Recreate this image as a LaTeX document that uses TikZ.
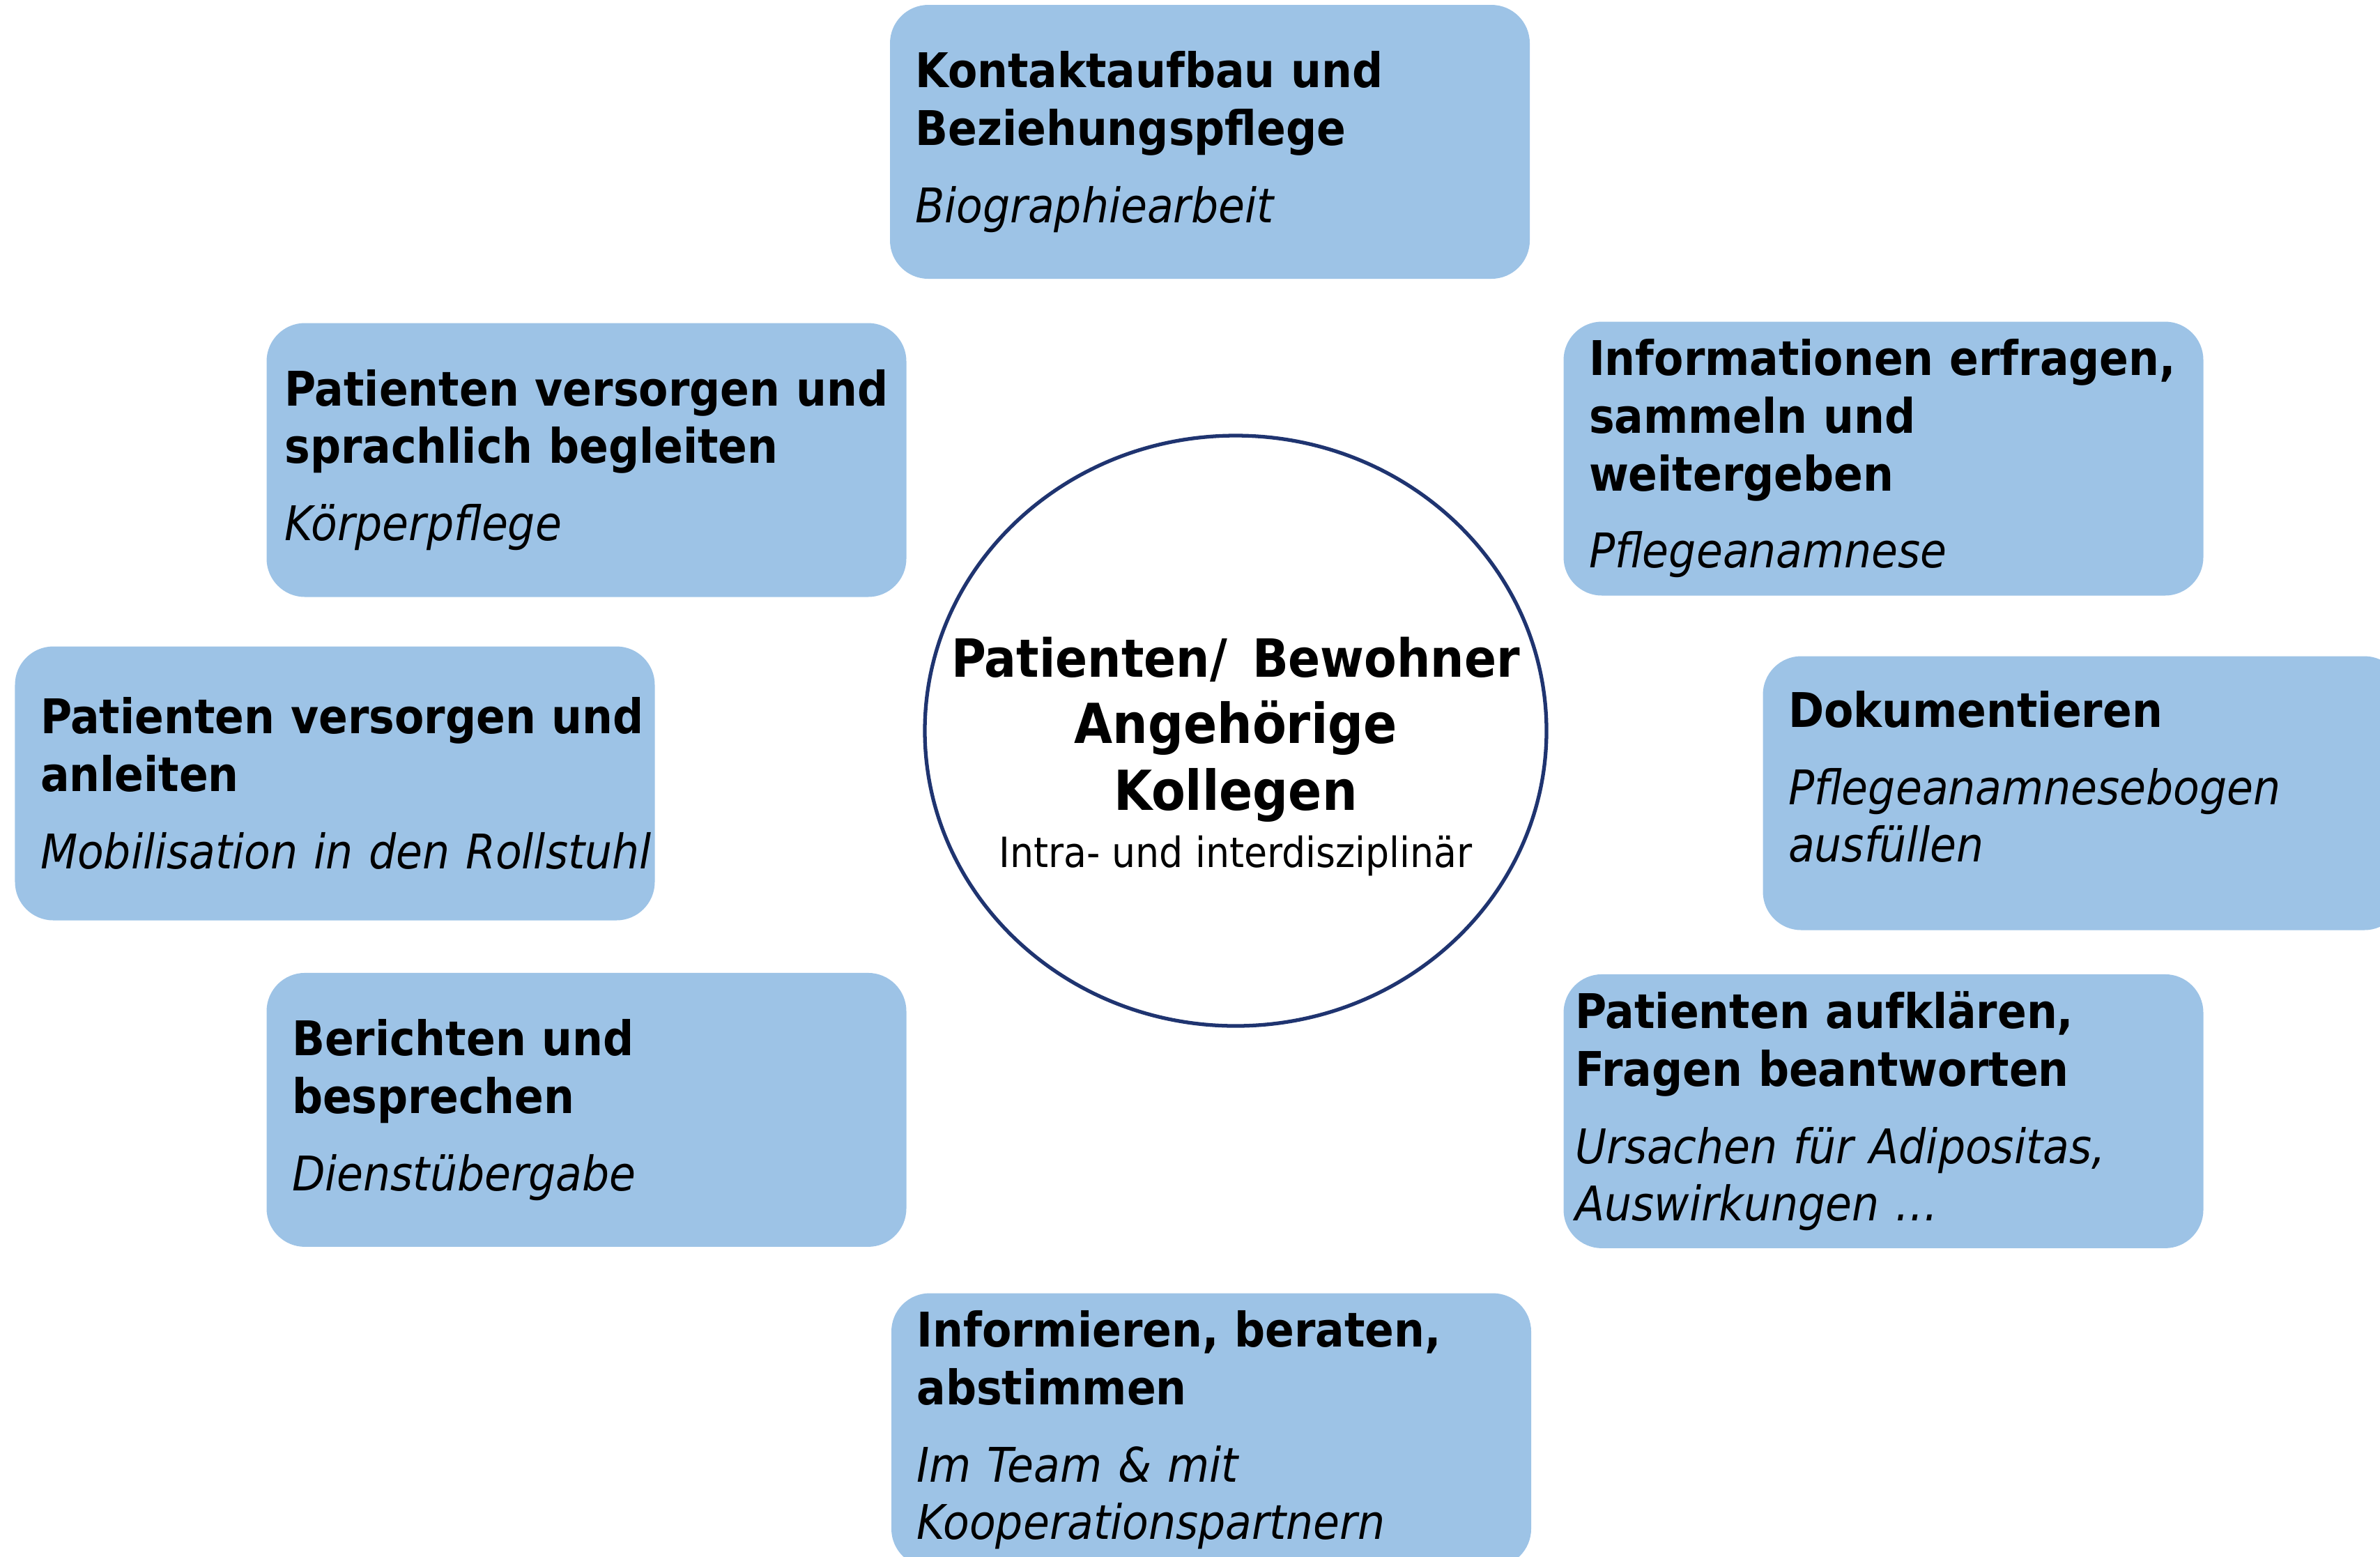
\documentclass[tikz,border=0pt]{standalone}
\usepackage{fontspec}
\setmainfont{DejaVu Sans Condensed}
\usetikzlibrary{positioning, shapes.geometric}

\definecolor{boxblue}{HTML}{9DC3E6}
\definecolor{ringnavy}{HTML}{1F3470}

\newcommand{\headfont}{\bfseries}
\newcommand{\examplefont}{\mdseries\itshape}

\begin{document}
\begin{tikzpicture}[
    box/.style={rectangle, rounded corners=0.55cm, fill=boxblue, minimum width=9.18cm, minimum height=3.93cm, text width=8.45cm, inner xsep=0.365cm, align=left, font=\fontsize{19.5}{23.5}\selectfont, execute at begin node={\hyphenpenalty=10000\exhyphenpenalty=10000}},
    hub/.style={ellipse, draw=ringnavy, line width=1.5pt, minimum width=8.92cm, minimum height=8.47cm, inner sep=0pt},
    hubtxt/.style={align=center, font=\fontsize{21.5}{27.2}\selectfont\bfseries}
]
\useasboundingbox (0,0) rectangle (34.15,-22.33);
\clip (0,0) rectangle (34.15,-22.33);

% Center circle
\node[hub] (hub) at (17.73,-10.485) {};
\node[hubtxt] (hubtext) at ([yshift=-0.37cm]hub.center) {Patienten/\,\ Bewohner\\ {\fontsize{22.5}{27.2}\selectfont Angehörige}\\ {\fontsize{22.5}{27.2}\selectfont Kollegen}\\[-3.7pt]
    {\fontsize{17}{23.5}\selectfont\mdseries Intra- und interdisziplinär}};

% Boxes around the circle
\node[box] (kontakt) at (17.36,-2.035) {\headfont Kontaktaufbau und\\ Beziehungspflege\\[8pt] \examplefont Biographiearbeit};
\node[box, inner xsep=0.26cm, text width=8.66cm] (sprache) at (8.415,-6.60) {\headfont Patienten~versorgen~und\\ sprachlich begleiten\\[8pt] \examplefont Körperpflege};
\node[box] (info) at (27.025,-6.58) {\headfont Informationen~erfragen,\\ sammeln und\\ weitergeben\\[8pt] \examplefont Pflegeanamnese};
\node[box] (anleiten) at (4.805,-11.24) {\headfont Patienten~versorgen~und\\ anleiten\\[8pt] \examplefont Mobilisation~in~den~Rollstuhl};
\node[box] (doku) at (29.885,-11.38) {\headfont Dokumentieren\\[8pt] \examplefont Pflegeanamnesebogen\\ ausfüllen\\[-0.35cm] \mbox{}};
\node[box, below=5.38cm of sprache] (bericht) {\headfont Berichten und\\ besprechen\\[8pt] \examplefont Dienstübergabe};
\node[box, below=5.42cm of info, inner xsep=0.17cm, text width=8.84cm] (aufklaeren) {\headfont Patienten aufklären,\\ Fragen beantworten\\[8pt] \examplefont Ursachen~für~Adipositas,\\ Auswirkungen …};
\node[box] (beraten) at (17.38,-20.52) {\headfont Informieren, beraten,\\ abstimmen\\[8pt] \examplefont Im Team \& mit\\ Kooperationspartnern};

\end{tikzpicture}
\end{document}
